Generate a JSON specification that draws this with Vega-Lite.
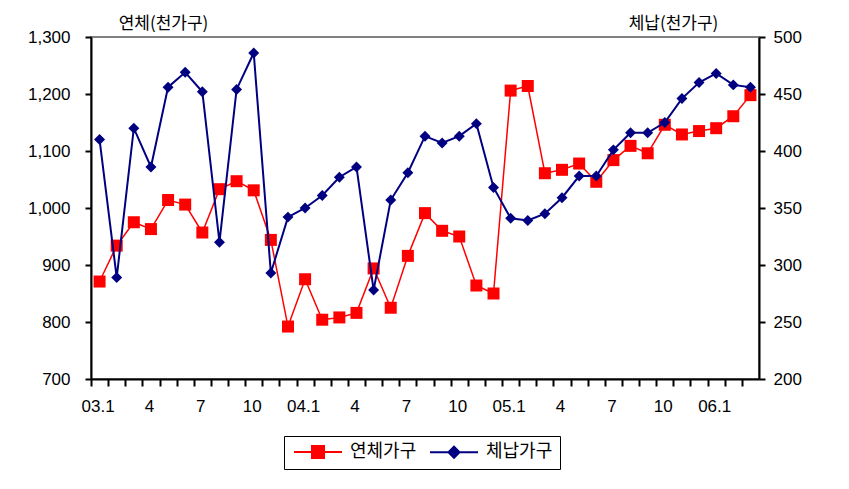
{
  "$schema": "https://vega.github.io/schema/vega-lite/v6.json",
  "autosize": {"type": "none"},
  "width": 668,
  "height": 342,
  "padding": {"left": 91, "top": 37, "right": 90, "bottom": 110},
  "background": "white",
  "config": {
    "font": "Liberation Sans, Noto Sans CJK KR",
    "view": {"stroke": "#808080", "strokeWidth": 2},
    "axis": {"grid": false, "domainColor": "#000", "domainWidth": 2, "tickColor": "#000", "tickWidth": 2, "labelColor": "#000", "labelFontSize": 17, "labelFont": "Liberation Sans, Noto Sans CJK KR", "titleColor": "#000", "titleFontWeight": "normal", "titleFont": "Noto Sans CJK KR", "titleFontSize": 17}
  },
  "data": {
    "values": [
      {"month": "03.1", "overdue": 871, "arrears": 410},
      {"month": "03.2", "overdue": 934, "arrears": 289},
      {"month": "03.3", "overdue": 975, "arrears": 420},
      {"month": "03.4", "overdue": 963, "arrears": 386},
      {"month": "03.5", "overdue": 1014, "arrears": 456},
      {"month": "03.6", "overdue": 1006, "arrears": 469},
      {"month": "03.7", "overdue": 957, "arrears": 452},
      {"month": "03.8", "overdue": 1033, "arrears": 320},
      {"month": "03.9", "overdue": 1047, "arrears": 454},
      {"month": "03.10", "overdue": 1031, "arrears": 486},
      {"month": "03.11", "overdue": 944, "arrears": 293},
      {"month": "03.12", "overdue": 792, "arrears": 342},
      {"month": "04.1", "overdue": 875, "arrears": 350},
      {"month": "04.2", "overdue": 804, "arrears": 361},
      {"month": "04.3", "overdue": 808, "arrears": 377},
      {"month": "04.4", "overdue": 816, "arrears": 386},
      {"month": "04.5", "overdue": 894, "arrears": 278},
      {"month": "04.6", "overdue": 825, "arrears": 357},
      {"month": "04.7", "overdue": 916, "arrears": 381},
      {"month": "04.8", "overdue": 991, "arrears": 413},
      {"month": "04.9", "overdue": 960, "arrears": 407},
      {"month": "04.10", "overdue": 950, "arrears": 413},
      {"month": "04.11", "overdue": 864, "arrears": 424},
      {"month": "04.12", "overdue": 850, "arrears": 368},
      {"month": "05.1", "overdue": 1206, "arrears": 341},
      {"month": "05.2", "overdue": 1214, "arrears": 339},
      {"month": "05.3", "overdue": 1061, "arrears": 345},
      {"month": "05.4", "overdue": 1067, "arrears": 359},
      {"month": "05.5", "overdue": 1078, "arrears": 378},
      {"month": "05.6", "overdue": 1046, "arrears": 378},
      {"month": "05.7", "overdue": 1084, "arrears": 401},
      {"month": "05.8", "overdue": 1109, "arrears": 416},
      {"month": "05.9", "overdue": 1096, "arrears": 416},
      {"month": "05.10", "overdue": 1146, "arrears": 425},
      {"month": "05.11", "overdue": 1129, "arrears": 446},
      {"month": "05.12", "overdue": 1135, "arrears": 460},
      {"month": "06.1", "overdue": 1140, "arrears": 468},
      {"month": "06.2", "overdue": 1161, "arrears": 458},
      {"month": "06.3", "overdue": 1198, "arrears": 456}
    ]
  },
  "encoding": {
    "x": {
      "field": "month", "type": "ordinal", "sort": null,
      "scale": {"type": "band", "paddingInner": 0, "paddingOuter": 0},
      "axis": {
        "title": null, "labelAngle": 0, "tickOffset": -8.56, "labelOffset": 6.56,
        "ticks": true, "tickSize": 7, "labelPadding": 12,
        "encode": {"ticks": {"update": {"y2": {"value": -7}}}},
        "labelExpr": "indexof(['1','4','7','10'], split(datum.value,'.')[1]) < 0 ? '' : (split(datum.value,'.')[1] == '1' ? datum.value : split(datum.value,'.')[1])"
      }
    }
  },
  "layer": [
    {
      "mark": {"type": "line", "strokeWidth": 1.5, "point": {"shape": "square", "size": 144, "filled": true, "opacity": 1}},
      "encoding": {
        "y": {
          "field": "overdue", "type": "quantitative",
          "scale": {"domain": [700, 1300], "nice": false, "zero": false},
          "axis": {"orient": "left", "values": [700, 800, 900, 1000, 1100, 1200, 1300], "format": ",d", "ticks": true, "tickSize": 6, "labelPadding": 15,
            "encode": {"ticks": {"update": {"x2": {"value": 6}}}},
            "title": "연체(천가구)", "titleAngle": 0, "titleAlign": "center", "titleBaseline": "middle", "titleX": 72, "titleY": -14}
        },
        "color": {
          "datum": "연체가구",
          "scale": {"domain": ["연체가구", "체납가구"], "range": ["#FF0000", "#000080"]},
          "legend": {
            "title": null, "orient": "none", "legendX": 193, "legendY": 399, "direction": "horizontal",
            "strokeColor": "#000", "padding": 7, "symbolSize": 144, "symbolStrokeWidth": 2, "symbolOffset": 18,
            "labelFontSize": 18, "labelFont": "Noto Sans CJK KR", "labelColor": "#000", "labelOffset": 23, "columnPadding": 9,
            "encode": {"symbols": {"update": {
              "shape": {"signal": "datum.value === '연체가구' ? 'M-4,0H4M-1,-1H1V1H-1Z' : 'M-4,0H4M-0.92,0L0,-0.92L0.92,0L0,0.92Z'"},
              "fill": {"signal": "datum.value === '연체가구' ? '#FF0000' : '#000080'"},
              "stroke": {"signal": "datum.value === '연체가구' ? '#FF0000' : '#000080'"},
              "opacity": {"value": 1}, "fillOpacity": {"value": 1}, "strokeOpacity": {"value": 1}
            }}}
          }
        }
      }
    },
    {
      "mark": {"type": "line", "strokeWidth": 2, "point": {"shape": "diamond", "size": 120, "filled": true, "opacity": 1}},
      "encoding": {
        "y": {
          "field": "arrears", "type": "quantitative",
          "scale": {"domain": [200, 500], "nice": false, "zero": false},
          "axis": {"orient": "right", "values": [200, 250, 300, 350, 400, 450, 500], "ticks": true, "tickSize": 6, "labelPadding": 8,
            "encode": {"ticks": {"update": {"x2": {"value": -6}}}},
            "title": "체납(천가구)", "titleAngle": 0, "titleAlign": "center", "titleBaseline": "middle", "titleX": -86, "titleY": -14}
        },
        "color": {"datum": "체납가구"}
      }
    }
  ],
  "resolve": {"scale": {"y": "independent"}}
}
